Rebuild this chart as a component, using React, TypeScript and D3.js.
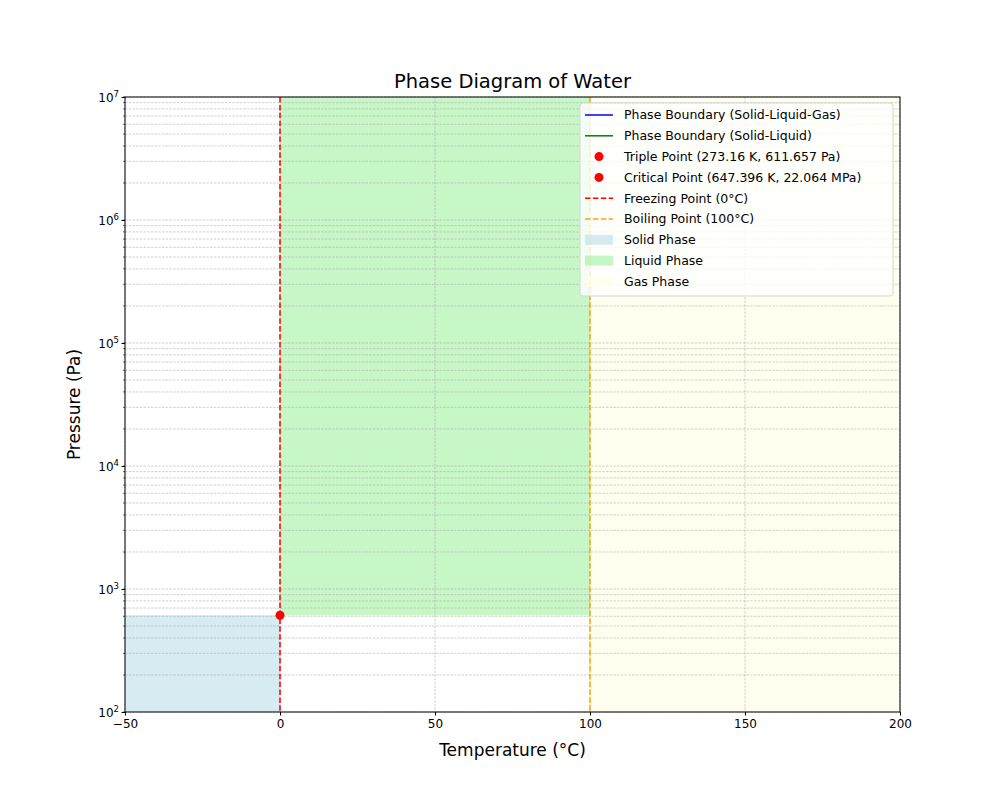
import { useEffect, useRef } from "react";
import * as d3 from "d3";

// ── Data ──────────────────────────────────────────────────────────────────────
const X_DOMAIN: [number, number] = [-50, 200];
const Y_DOMAIN: [number, number] = [1e2, 1e7];
const X_TICKS = [-50, 0, 50, 100, 150, 200];
const Y_TICKS = [2, 3, 4, 5, 6, 7];
const TRIPLE_T = 0;          // °C
const TRIPLE_P = 611.657;    // Pa
const FREEZE_T = 0;
const BOIL_T = 100;

const PHASES = [
  { name: "Solid Phase",  x0: -50, x1: 0,   p0: 1e2,      p1: TRIPLE_P, fill: "#add8e6" },
  { name: "Liquid Phase", x0: 0,   x1: 100, p0: TRIPLE_P, p1: 1e7,      fill: "#90ee90" },
  { name: "Gas Phase",    x0: 100, x1: 200, p0: 1e2,      p1: 1e7,      fill: "#ffffe0" },
];

const LEGEND = [
  { kind: "line", color: "blue", label: "Phase Boundary (Solid-Liquid-Gas)" },
  { kind: "line", color: "green", label: "Phase Boundary (Solid-Liquid)" },
  { kind: "dot", color: "red", label: "Triple Point (273.16 K, 611.657 Pa)" },
  { kind: "dot", color: "red", label: "Critical Point (647.396 K, 22.064 MPa)" },
  { kind: "dash", color: "red", label: "Freezing Point (0°C)" },
  { kind: "dash", color: "orange", label: "Boiling Point (100°C)" },
  { kind: "patch", color: "#add8e6", label: "Solid Phase" },
  { kind: "patch", color: "#90ee90", label: "Liquid Phase" },
  { kind: "patch", color: "#ffffe0", label: "Gas Phase" },
];

const M = { left: 125, top: 97, right: 100, bottom: 88 };
const WIDTH = 1000, HEIGHT = 800;
const FONT = "DejaVu Sans, sans-serif";

export default function App() {
  const ref = useRef<SVGSVGElement>(null);

  useEffect(() => {
    const svg = d3.select(ref.current!);
    svg.selectAll("*").remove();
    const W = WIDTH - M.left - M.right;
    const H = HEIGHT - M.top - M.bottom;
    const x = d3.scaleLinear().domain(X_DOMAIN).range([0, W]);
    const y = d3.scaleLog().domain(Y_DOMAIN).range([H, 0]);
    const g = svg.append("g").attr("transform", `translate(${M.left},${M.top})`);

    // phase fills
    PHASES.forEach((p) => {
      g.append("rect")
        .attr("x", x(p.x0)).attr("width", x(p.x1) - x(p.x0))
        .attr("y", y(p.p1)).attr("height", y(p.p0) - y(p.p1))
        .attr("fill", p.fill).attr("fill-opacity", 0.5);
    });

    // grid: all log ticks horizontally, major x ticks vertically
    const minor: number[] = [];
    for (let e = 2; e < 7; e++) for (let k = 1; k <= 9; k++) minor.push(k * 10 ** e);
    minor.push(1e7);
    minor.forEach((v) => {
      g.append("line").attr("x1", 0).attr("x2", W).attr("y1", y(v)).attr("y2", y(v))
        .attr("stroke", "#b0b0b0").attr("stroke-width", 0.6).attr("stroke-dasharray", "2.5 1.2");
    });
    X_TICKS.forEach((t) => {
      g.append("line").attr("x1", x(t)).attr("x2", x(t)).attr("y1", 0).attr("y2", H)
        .attr("stroke", "#b0b0b0").attr("stroke-width", 0.6).attr("stroke-dasharray", "2.5 1.2");
    });

    // reference lines
    g.append("line").attr("x1", x(FREEZE_T)).attr("x2", x(FREEZE_T)).attr("y1", 0).attr("y2", H)
      .attr("stroke", "red").attr("stroke-width", 1.5).attr("stroke-dasharray", "5.5 2.4");
    g.append("line").attr("x1", x(BOIL_T)).attr("x2", x(BOIL_T)).attr("y1", 0).attr("y2", H)
      .attr("stroke", "orange").attr("stroke-width", 1.5).attr("stroke-dasharray", "5.5 2.4");

    g.append("circle").attr("cx", x(TRIPLE_T)).attr("cy", y(TRIPLE_P)).attr("r", 4.5).attr("fill", "red");

    // frame
    g.append("rect").attr("width", W).attr("height", H).attr("fill", "none")
      .attr("stroke", "black").attr("stroke-width", 1);

    // axes
    const xa = g.append("g").attr("transform", `translate(0,${H})`)
      .call(d3.axisBottom(x).tickValues(X_TICKS).tickSize(3.5).tickPadding(4)
        .tickFormat((d) => (+d < 0 ? "\u2212" + Math.abs(+d) : String(d))));
    xa.select(".domain").remove();
    xa.selectAll("text").attr("font-size", 12).attr("font-family", FONT).attr("fill", "black");

    const ya = g.append("g").call(d3.axisLeft(y).tickValues(Y_TICKS.map((e) => 10 ** e))
      .tickSize(3.5).tickFormat(() => ""));
    ya.select(".domain").remove();
    ya.selectAll(".tick").each(function (d) {
      const e = Math.round(Math.log10(d as number));
      const t = d3.select(this).append("text").attr("x", -6).attr("dy", "0.35em")
        .attr("text-anchor", "end").attr("font-family", FONT).attr("font-size", 12).attr("fill", "black");
      t.append("tspan").text("10");
      t.append("tspan").attr("dy", "-0.55em").attr("font-size", 8.5).text(String(e));
    });
    minor.filter((v) => !Number.isInteger(Math.log10(v) + 1e-12) || Math.abs(Math.log10(v) - Math.round(Math.log10(v))) > 1e-9)
      .forEach((v) => {
        g.append("line").attr("x1", -2).attr("x2", 0).attr("y1", y(v)).attr("y2", y(v))
          .attr("stroke", "black").attr("stroke-width", 0.6);
      });

    // titles
    svg.append("text").attr("x", M.left + W / 2).attr("y", 88).attr("text-anchor", "middle")
      .attr("font-family", FONT).attr("font-size", 19.5).text("Phase Diagram of Water");
    svg.append("text").attr("x", M.left + W / 2).attr("y", 756).attr("text-anchor", "middle")
      .attr("font-family", FONT).attr("font-size", 17).text("Temperature (°C)");
    svg.append("text").attr("transform", `translate(80,${M.top + H / 2}) rotate(-90)`)
      .attr("text-anchor", "middle").attr("font-family", FONT).attr("font-size", 17).text("Pressure (Pa)");

    // legend
    const lg = svg.append("g").attr("transform", "translate(580,103)");
    lg.append("rect").attr("width", 313).attr("height", 193).attr("rx", 3)
      .attr("fill", "white").attr("fill-opacity", 0.8).attr("stroke", "#d5d5d5");
    LEGEND.forEach((it, i) => {
      const cy = 12 + i * 20.8;
      const r = lg.append("g").attr("transform", `translate(0,${cy})`);
      if (it.kind === "line" || it.kind === "dash") {
        r.append("line").attr("x1", 5).attr("x2", 33).attr("stroke", it.color).attr("stroke-width", 1.5)
          .attr("stroke-dasharray", it.kind === "dash" ? "5.5 2.4" : null);
      } else if (it.kind === "dot") {
        r.append("circle").attr("cx", 19).attr("r", 4.5).attr("fill", it.color);
      } else {
        r.append("rect").attr("x", 5).attr("y", -5).attr("width", 28).attr("height", 10)
          .attr("fill", it.color).attr("fill-opacity", 0.5);
      }
      r.append("text").attr("x", 44).attr("dy", "0.35em").attr("font-family", FONT)
        .attr("font-size", 12.5).text(it.label);
    });
  }, []);

  return <svg ref={ref} width={WIDTH} height={HEIGHT} style={{ display: "block", margin: -8 }} />;
}
